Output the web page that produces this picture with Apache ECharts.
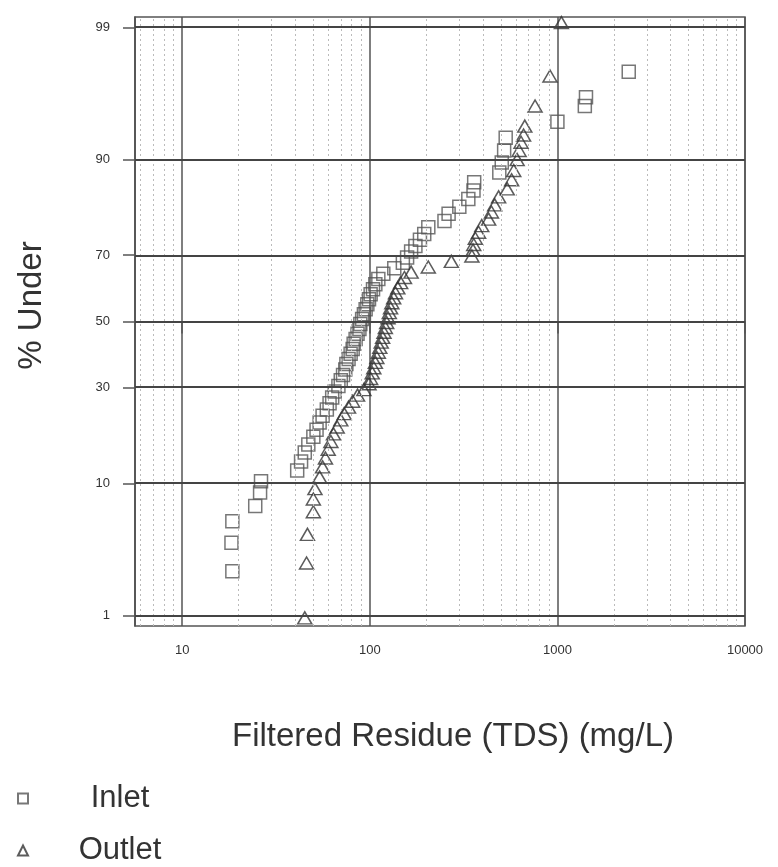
<!DOCTYPE html>
<html>
<head>
<meta charset="utf-8">
<script src="https://cdn.jsdelivr.net/npm/echarts@6/dist/echarts.min.js"></script>
<style>
  html, body { margin: 0; padding: 0; background: #fff; }
  #chart { width: 778px; height: 867px; }
</style>
</head>
<body>
<div id="chart"></div>
<script>
// [TDS mg/L, % under]
var inletPoints = [
  [18.5, 2.4], [18.3, 4.0], [18.5, 5.7], [24.5, 7.2], [26, 8.8], [26.3, 10.3],
  [41, 11.9], [43, 13.4], [45, 15.0], [47, 16.5], [50, 18.1], [52, 19.6], [54, 21.2], [56, 22.8], [59, 24.3], [61, 25.9],
  [63, 27.4], [65, 29.0], [68, 30.5], [70, 32.1], [72, 33.6], [74, 35.2], [75, 36.8], [77, 38.3], [79, 39.9], [81, 41.4],
  [82, 43.0], [84, 44.5], [86, 46.1], [88, 47.6], [89, 49.2], [91, 50.8], [93, 52.3], [95, 53.9], [97, 55.4], [99, 57.0],
  [101, 58.5], [104, 60.1], [107, 61.6], [111, 63.2], [118, 64.7], [135, 66.3], [150, 67.9], [158, 69.4], [166, 71.0],
  [175, 72.5], [185, 74.1], [195, 75.6], [205, 77.2], [250, 78.7], [263, 80.3], [300, 81.8], [335, 83.4], [357, 85.0],
  [360, 86.5], [490, 88.1], [505, 89.6], [520, 91.2], [530, 92.7], [1000, 94.3], [1400, 95.6], [1420, 96.2], [2400, 97.6]
];
var outletPoints = [
  [45, 0.95], [46, 2.8], [46.5, 4.6], [50, 6.6], [50, 8.0], [51, 9.3],
  [54, 10.9], [56, 12.5], [58, 14.0], [60, 15.6], [62, 17.1], [64, 18.7], [67, 20.2], [70, 21.8], [73, 23.3], [77, 24.9],
  [81, 26.4], [86, 28.0], [93, 29.5], [99, 31.1], [101, 32.6], [103, 34.2], [105, 35.7], [107, 37.3], [109, 38.8], [111, 40.4],
  [113, 41.9], [115, 43.5], [117, 45.0], [119, 46.6], [121, 48.1], [123, 49.7], [125, 51.2], [127, 52.8], [129, 54.3],
  [131, 55.9], [134, 57.4], [137, 59.0], [141, 60.5], [146, 62.1], [153, 63.6], [166, 65.2], [205, 66.7], [272, 68.3],
  [350, 69.8], [355, 71.4], [358, 72.9], [365, 74.5], [380, 76.0], [395, 77.6], [430, 79.1], [445, 80.7], [463, 82.2],
  [486, 83.8], [540, 85.3], [570, 86.9], [585, 88.4], [610, 90.0], [625, 91.2], [640, 92.2], [660, 93.0], [670, 93.9],
  [760, 95.6], [913, 97.4], [1050, 99.1]
];
var pctTicks = [1, 10, 30, 50, 70, 90, 99];
var minorX = [6, 7, 8, 9, 20, 30, 40, 50, 60, 70, 80, 90, 200, 300, 400, 500, 600, 700, 800, 900,
  2000, 3000, 4000, 5000, 6000, 7000, 8000, 9000];

// inverse normal cdf (Acklam)
function probit(p) {
  var a = [-3.969683028665376e+01, 2.209460984245205e+02, -2.759285104469687e+02, 1.383577518672690e+02, -3.066479806614716e+01, 2.506628277459239e+00];
  var b = [-5.447609879822406e+01, 1.615858368580409e+02, -1.556989798598866e+02, 6.680131188771972e+01, -1.328068155288572e+01];
  var c = [-7.784894002430293e-03, -3.223964580411365e-01, -2.400758277161838e+00, -2.549671324363430e+00, 4.374664141464968e+00, 2.938163982698783e+00];
  var d = [7.784695709041462e-03, 3.224671290700398e-01, 2.445134137142996e+00, 3.754408661907416e+00];
  var pl = 0.02425, q, r;
  if (p < pl) {
    q = Math.sqrt(-2 * Math.log(p));
    return (((((c[0]*q+c[1])*q+c[2])*q+c[3])*q+c[4])*q+c[5]) / ((((d[0]*q+d[1])*q+d[2])*q+d[3])*q+1);
  }
  if (p <= 1 - pl) {
    q = p - 0.5; r = q * q;
    return (((((a[0]*r+a[1])*r+a[2])*r+a[3])*r+a[4])*r+a[5])*q / (((((b[0]*r+b[1])*r+b[2])*r+b[3])*r+b[4])*r+1);
  }
  q = Math.sqrt(-2 * Math.log(1 - p));
  return -(((((c[0]*q+c[1])*q+c[2])*q+c[3])*q+c[4])*q+c[5]) / ((((d[0]*q+d[1])*q+d[2])*q+d[3])*q+1);
}

function toZ(pts) {
  return pts.map(function (d) { return [d[0], probit(d[1] / 100)]; });
}
var tickZ = pctTicks.map(function (p) { return probit(p / 100); });

var chart = echarts.init(document.getElementById('chart'));
var font = 'Liberation Sans, Arial, sans-serif';

var option = {
  animation: false,
  backgroundColor: '#fff',
  grid: {
    left: 135, right: 33, top: 17, bottom: 241,
    outerBoundsMode: 'none',
    containLabel: false,
    show: true, borderColor: '#555', borderWidth: 1.5
  },
  legend: {
    data: ['Inlet', 'Outlet'],
    orient: 'vertical',
    left: 17,
    top: 783,
    padding: 0,
    itemWidth: 10,
    itemHeight: 10,
    itemGap: 21,
    formatter: function (name) { return '{c|' + name + '}'; },
    textStyle: {
      rich: { c: { width: 174, align: 'center', fontSize: 31, lineHeight: 30, fontFamily: font, color: '#333' } }
    }
  },
  xAxis: {
    type: 'log',
    logBase: 10,
    min: 5.6,
    max: 10000,
    name: 'Filtered Residue (TDS) (mg/L)',
    nameLocation: 'middle',
    nameGap: 94,
    nameTextStyle: { fontSize: 33, fontFamily: font, color: '#333', padding: [0, 0, 0, 26] },
    axisLine: { lineStyle: { color: '#555', width: 1.5 } },
    axisTick: { show: true, length: 12, lineStyle: { color: '#555', width: 1.5 } },
    axisLabel: {
      showMinLabel: false,
      margin: 18,
      fontSize: 13, fontFamily: font, color: '#333',
      formatter: function (v) { return String(Math.round(v)); }
    },
    splitLine: { show: true, lineStyle: { color: '#555', width: 1.5 } },
    minorTick: { show: false }
  },
  yAxis: {
    type: 'value',
    min: -2.41,
    max: 2.41,
    name: '% Under',
    nameLocation: 'middle',
    nameGap: 87,
    nameRotate: 90,
    nameTextStyle: { fontSize: 33, fontFamily: font, color: '#333', padding: [0, 0, 0, 32] },
    axisLine: { show: true, lineStyle: { color: '#555', width: 1.5 } },
    axisTick: { show: true, length: 12, customValues: tickZ, lineStyle: { color: '#555', width: 1.5 } },
    axisLabel: {
      customValues: tickZ,
      margin: 25,
      fontSize: 13, fontFamily: font, color: '#333',
      formatter: function (v) {
        var best = 0;
        for (var i = 1; i < tickZ.length; i++) {
          if (Math.abs(tickZ[i] - v) < Math.abs(tickZ[best] - v)) best = i;
        }
        return String(pctTicks[best]);
      }
    },
    splitLine: { show: false }
  },
  series: [
    {
      name: 'grid',
      type: 'line',
      data: [],
      z: 1,
      silent: true,
      markLine: {
        silent: true,
        symbol: ['none', 'none'],
        label: { show: false },
        lineStyle: { color: '#bbb', width: 1, type: [2, 3] },
        data: minorX.map(function (v) { return { xAxis: v }; })
      }
    },
    {
      name: 'major',
      type: 'line',
      data: [],
      z: 2,
      silent: true,
      markLine: {
        silent: true,
        symbol: ['none', 'none'],
        label: { show: false },
        lineStyle: { color: '#444', width: 2, type: 'solid' },
        data: tickZ.map(function (v) { return { yAxis: v }; })
      }
    },
    {
      name: 'Inlet',
      type: 'scatter',
      z: 3,
      symbol: 'rect',
      symbolSize: 13,
      itemStyle: { color: 'rgba(255,255,255,0)', borderColor: '#555', borderWidth: 1.5 },
      data: toZ(inletPoints)
    },
    {
      name: 'Outlet',
      type: 'scatter',
      z: 4,
      symbol: 'triangle',
      symbolSize: [14, 12],
      itemStyle: { color: 'rgba(255,255,255,0)', borderColor: '#333', borderWidth: 1.5 },
      data: toZ(outletPoints)
    }
  ]
};

chart.setOption(option);
</script>
</body>
</html>
